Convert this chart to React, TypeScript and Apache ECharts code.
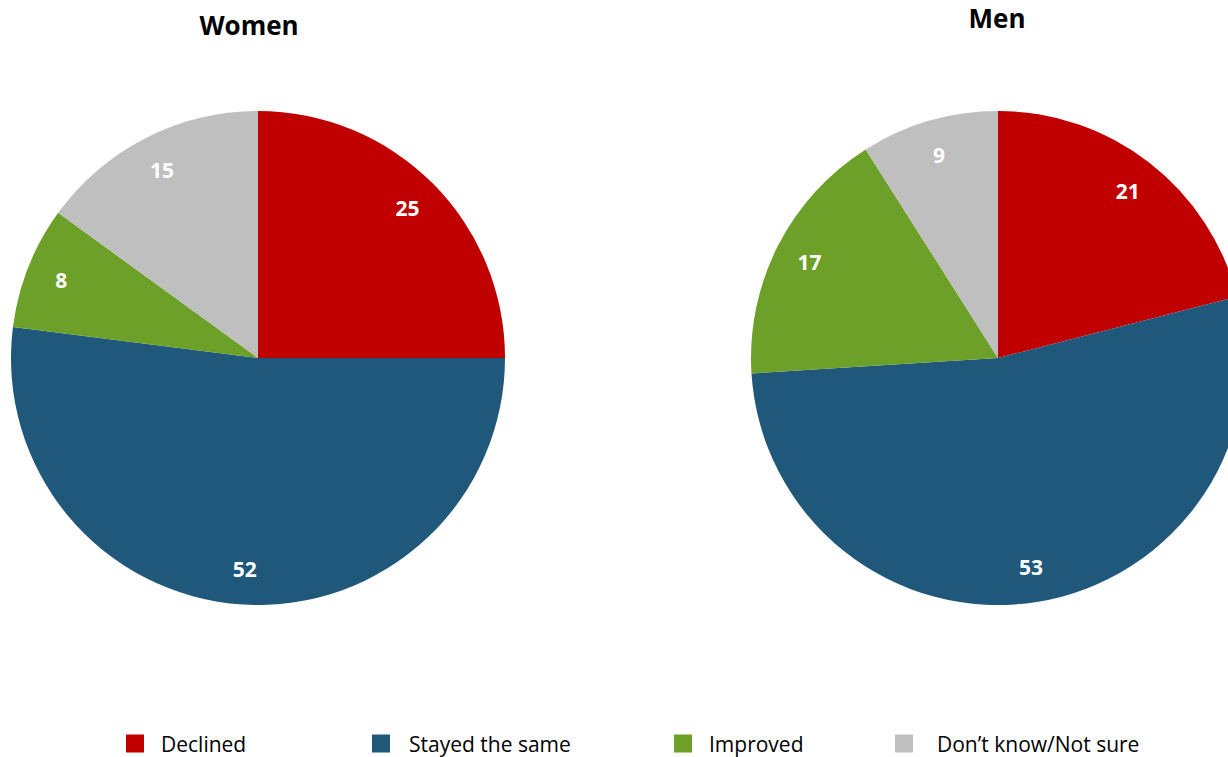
import React, { useEffect, useRef } from "react";
import * as echarts from "echarts";

const categories = ["Declined", "Stayed the same", "Improved", "Don\u2019t know/Not sure"];
const womenValues = [25, 52, 8, 15];
const menValues = [21, 53, 17, 9];
const colors = ["#C00000", "#1F587A", "#6DA028", "#BFBFBF"];
const titles = ["Women", "Men"];

export default function App() {
  const ref = useRef<HTMLDivElement>(null);
  useEffect(() => {
    document.body.style.margin = "0";
    const chart = echarts.init(ref.current!, null, { renderer: "svg" });
    const font = "'Open Sans', 'Noto Sans', sans-serif";
    const mk = (vals: number[]) =>
      categories.map((c, i) => ({ name: c, value: vals[i], itemStyle: { color: colors[i] } }));
    const pies = [
      { center: [258, 358], vals: womenValues },
      { center: [998, 358], vals: menValues },
    ];
    const series: any[] = [];
    pies.forEach((p) => {
      series.push({
        type: "pie",
        center: p.center,
        radius: 247,
        startAngle: 90,
        clockwise: true,
        silent: true,
        label: { show: false },
        labelLine: { show: false },
        data: mk(p.vals),
      });
      series.push({
        type: "pie",
        center: p.center,
        radius: [170, 247],
        startAngle: 90,
        clockwise: true,
        silent: true,
        legendHoverLink: false,
        itemStyle: { color: "rgba(0,0,0,0)" },
        label: {
          show: true,
          position: "inside",
          color: "#ffffff",
          fontWeight: "bold",
          fontSize: 21,
          fontFamily: font,
          formatter: "{c}",
        },
        labelLine: { show: false },
        data: p.vals.map((v, i) => ({ name: "lbl" + i, value: v })),
      });
    });
    const legendLefts = [126, 372, 674, 895];
    const legendGaps = [17, 19, 17, 24];
    chart.setOption({
      animation: false,
      title: [
        {
          text: titles[0],
          left: 244,
          top: 7,
          textAlign: "center",
          textStyle: { fontSize: 26, fontWeight: "bold", color: "#000", fontFamily: font },
        },
        {
          text: titles[1],
          left: 992,
          top: 0,
          textAlign: "center",
          textStyle: { fontSize: 26, fontWeight: "bold", color: "#000", fontFamily: font },
        },
      ],
      legend: categories.map((c, i) => ({
        data: [{ name: c, icon: "rect" }],
        left: legendLefts[i],
        top: 733,
        padding: 0,
        itemWidth: 18,
        itemHeight: 18,
        itemGap: 0,
        textStyle: {
          fontSize: 21,
          lineHeight: 18,
          color: "#000",
          fontFamily: font,
          padding: [0, 0, 0, legendGaps[i] - 5],
        },
        selectedMode: false,
      })),
      series,
    });
    return () => chart.dispose();
  }, []);
  return <div ref={ref} style={{ width: 1228, height: 757 }} />;
}
